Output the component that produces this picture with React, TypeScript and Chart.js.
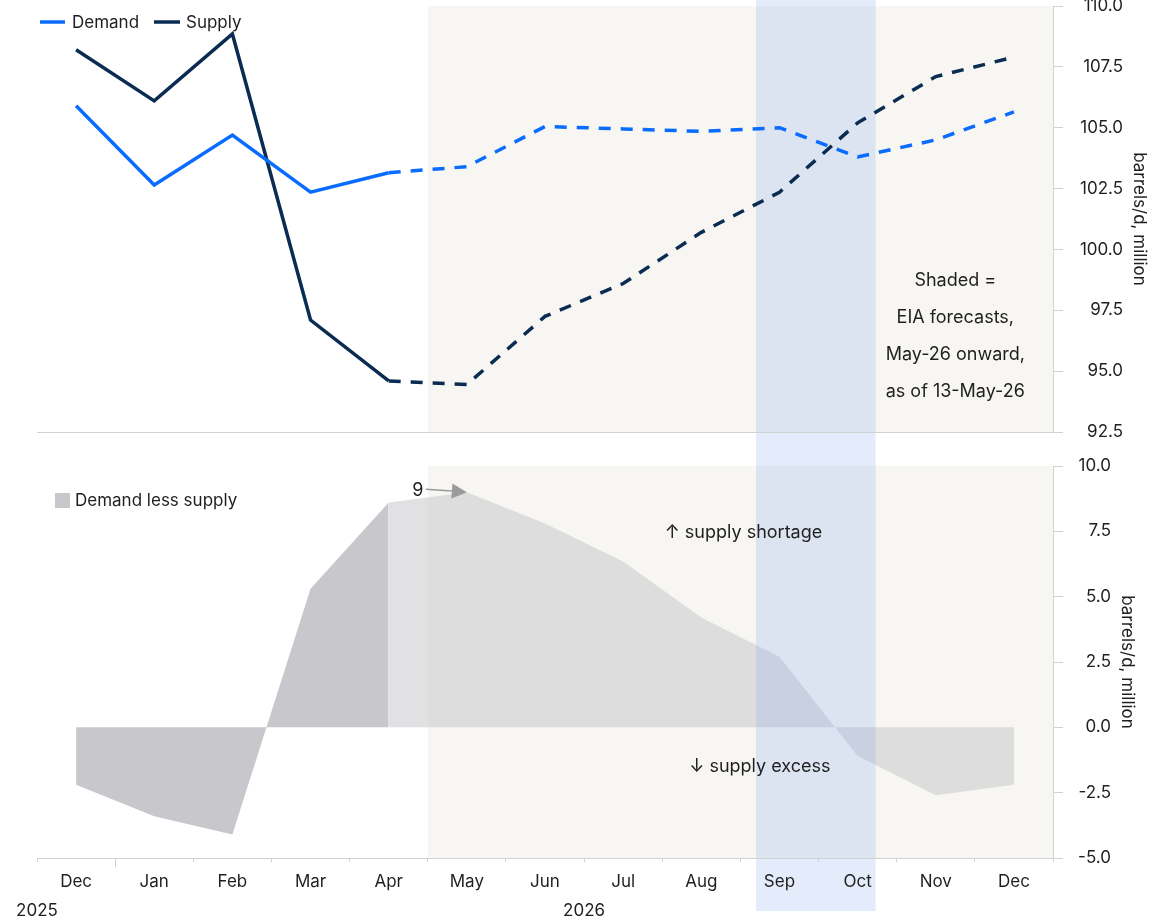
import React, { useEffect, useRef } from "react";
import { Chart, registerables } from "chart.js";

Chart.register(...registerables);

// ---------------- data ----------------
const months = ["Dec", "Jan", "Feb", "Mar", "Apr", "May", "Jun", "Jul", "Aug", "Sep", "Oct", "Nov", "Dec"];
const demand = [105.9, 102.65, 104.7, 102.35, 103.15, 103.4, 105.05, 104.95, 104.85, 105.0, 103.8, 104.5, 105.65];
const supply = [108.2, 106.1, 108.85, 97.1, 94.6, 94.45, 97.25, 98.6, 100.7, 102.35, 105.2, 107.1, 107.9];
const gapActual = [-2.2, -3.4, -4.1, 5.3, 8.6, null, null, null, null, null, null, null, null];
const gapForecast = [null, null, null, null, 8.6, 9.0, 7.8, 6.35, 4.2, 2.7, -1.1, -2.6, -2.2];
const topTicks = [92.5, 95, 97.5, 100, 102.5, 105, 107.5, 110];
const bottomTicks = [-5, -2.5, 0, 2.5, 5, 7.5, 10];
const years = ["2025", "2026"];
const shadedNote = ["Shaded =", "EIA forecasts,", "May-26 onward,", "as of 13-May-26"];
const ACTUAL_LAST = 4; // last actual month index (Apr)
const FORECAST_START = 4.5; // boundary Apr/May
const BAND = [8.7, 10.23]; // highlighted Sep-Oct window (category units)
const PEAK_INDEX = 5;
const PEAK_LABEL = "9";

// ---------------- styles ----------------
const FONT = "Inter, 'Noto Sans', 'DejaVu Sans', sans-serif";
const TEXT = "#1f1f1f";
const AXIS = "#d2d2d2";
const BEIGE = "#f7f6f2";
const BAND_COLOR = "rgba(120,160,240,0.2)";
const BLUE = "#0a6cff";
const NAVY = "#0b2c52";
const GREY_DARK = "#c8c7cc";
const GREY_LIGHT = "rgba(200,200,205,0.55)";

Chart.defaults.font.family = FONT;
Chart.defaults.color = TEXT;

const TOP_OFFSET = -15; // page y of top canvas
const TOP_H = 468;
const BOT_OFFSET = 444;
const BOT_H = 478;
const W = 1173;

function font(size: number) {
  return `${size}px ${FONT}`;
}

const topPlugin = {
  id: "topDecor",
  beforeDraw(chart: any) {
    const { ctx, chartArea, scales } = chart;
    const x = scales.x;
    ctx.save();
    const fx = x.getPixelForValue(FORECAST_START);
    ctx.fillStyle = BEIGE;
    ctx.fillRect(fx, chartArea.top, chartArea.right - fx, chartArea.bottom - chartArea.top);
    const b0 = x.getPixelForValue(BAND[0]);
    const b1 = x.getPixelForValue(BAND[1]);
    ctx.fillStyle = BAND_COLOR;
    ctx.fillRect(b0, -TOP_OFFSET, b1 - b0, BOT_OFFSET);
    ctx.restore();
  },
  afterDraw(chart: any) {
    const { ctx, scales } = chart;
    const x = scales.x;
    const y = scales.y;
    ctx.save();
    // legend
    const ly = 22 - TOP_OFFSET;
    ctx.lineWidth = 3.5;
    ctx.strokeStyle = BLUE;
    ctx.beginPath();
    ctx.moveTo(40, ly);
    ctx.lineTo(65, ly);
    ctx.stroke();
    ctx.strokeStyle = NAVY;
    ctx.beginPath();
    ctx.moveTo(154, ly);
    ctx.lineTo(180, ly);
    ctx.stroke();
    ctx.fillStyle = TEXT;
    ctx.font = font(17);
    ctx.textBaseline = "middle";
    ctx.textAlign = "left";
    ctx.fillText("Demand", 72, ly + 1);
    ctx.fillText("Supply", 186, ly + 1);
    // note
    ctx.font = font(18);
    ctx.textAlign = "center";
    const nx = x.getPixelForValue(11.25);
    const ny = y.getPixelForValue(98.74);
    shadedNote.forEach((t, i) => ctx.fillText(t, nx, ny + i * 37.3));
    ctx.restore();
  },
};

const bottomPlugin = {
  id: "bottomDecor",
  beforeDraw(chart: any) {
    const { ctx, chartArea, scales } = chart;
    const x = scales.x;
    ctx.save();
    const fx = x.getPixelForValue(FORECAST_START);
    ctx.fillStyle = BEIGE;
    ctx.fillRect(fx, chartArea.top, chartArea.right - fx, chartArea.bottom - chartArea.top);
    const b0 = x.getPixelForValue(BAND[0]);
    const b1 = x.getPixelForValue(BAND[1]);
    ctx.fillStyle = BAND_COLOR;
    ctx.fillRect(b0, 0, b1 - b0, chartArea.top);
    ctx.fillRect(b0, chartArea.bottom, b1 - b0, 911 - BOT_OFFSET - chartArea.bottom);
    ctx.restore();
  },
  afterDatasetsDraw(chart: any) {
    const { ctx, chartArea, scales } = chart;
    const x = scales.x;
    ctx.save();
    const b0 = x.getPixelForValue(BAND[0]);
    const b1 = x.getPixelForValue(BAND[1]);
    ctx.fillStyle = BAND_COLOR;
    ctx.fillRect(b0, chartArea.top, b1 - b0, chartArea.bottom - chartArea.top);
    ctx.restore();
  },
  afterDraw(chart: any) {
    const { ctx, chartArea, scales } = chart;
    const x = scales.x;
    const y = scales.y;
    ctx.save();
    // legend
    ctx.fillStyle = GREY_DARK;
    ctx.fillRect(55, 493 - BOT_OFFSET, 15, 15);
    ctx.fillStyle = TEXT;
    ctx.font = font(17);
    ctx.textBaseline = "middle";
    ctx.textAlign = "left";
    ctx.fillText("Demand less supply", 75, 501 - BOT_OFFSET);
    // annotations
    ctx.font = font(18);
    ctx.textAlign = "center";
    ctx.fillText("\u2191 supply shortage", x.getPixelForValue(8.54), y.getPixelForValue(7.47));
    ctx.fillText("\u2193 supply excess", x.getPixelForValue(8.75), y.getPixelForValue(-1.52));
    // peak label + arrow
    const tipX = x.getPixelForValue(PEAK_INDEX);
    const tipY = y.getPixelForValue(gapForecast[PEAK_INDEX] as number);
    ctx.fillText(PEAK_LABEL, tipX - 49, tipY - 2);
    const sx = tipX - 41;
    const sy = tipY - 3;
    const ang = Math.atan2(tipY - sy, tipX - sx);
    const hl = 15;
    const hw = 7.5;
    const bx = tipX - hl * Math.cos(ang);
    const by = tipY - hl * Math.sin(ang);
    ctx.strokeStyle = "#9a9a9a";
    ctx.fillStyle = "#9a9a9a";
    ctx.lineWidth = 1.5;
    ctx.beginPath();
    ctx.moveTo(sx, sy);
    ctx.lineTo(bx, by);
    ctx.stroke();
    ctx.beginPath();
    ctx.moveTo(tipX, tipY);
    ctx.lineTo(bx + hw * Math.sin(ang), by - hw * Math.cos(ang));
    ctx.lineTo(bx - hw * Math.sin(ang), by + hw * Math.cos(ang));
    ctx.closePath();
    ctx.fill();
    // longer year-boundary tick
    const yb = (x.getPixelForValue(0) + x.getPixelForValue(1)) / 2;
    ctx.strokeStyle = AXIS;
    ctx.lineWidth = 1;
    ctx.beginPath();
    ctx.moveTo(Math.round(yb) + 0.5, chartArea.bottom);
    ctx.lineTo(Math.round(yb) + 0.5, chartArea.bottom + 9);
    ctx.stroke();
    // year labels
    ctx.fillStyle = TEXT;
    ctx.font = font(17);
    ctx.textAlign = "center";
    const yy = 911 - BOT_OFFSET;
    ctx.fillText(years[0], chartArea.left, yy);
    ctx.fillText(years[1], (x.getPixelForValue(1) + x.getPixelForValue(12)) / 2, yy);
    ctx.restore();
  },
};

// width = distance from plot edge to right edge of tick labels (labels are right-aligned there)
function yAxis(min: number, max: number, ticks: number[], width: number) {
  return {
    type: "linear" as const,
    position: "right" as const,
    min,
    max,
    afterBuildTicks: (scale: any) => {
      scale.ticks = ticks.map((v) => ({ value: v }));
    },
    afterFit: (scale: any) => {
      scale.width = width;
    },
    ticks: {
      padding: 10,
      crossAlign: "far" as const,
      font: { size: 17 },
      color: TEXT,
      callback: (v: any) => Number(v).toFixed(1),
    },
    grid: { drawOnChartArea: false, drawTicks: true, tickLength: 10, color: AXIS },
    border: { display: true, color: AXIS },
    title: {
      display: true,
      text: "barrels/d, million",
      font: { size: 17 },
      color: TEXT,
      padding: { top: -26.2, bottom: 0 },
    },
  };
}

export default function App() {
  const topRef = useRef<HTMLCanvasElement>(null);
  const botRef = useRef<HTMLCanvasElement>(null);

  useEffect(() => {
    const dash = (ctx: any) => (ctx.p0DataIndex >= ACTUAL_LAST ? [12, 10] : undefined);
    const top = new Chart(topRef.current!, {
      type: "line",
      data: {
        labels: months,
        datasets: [
          {
            label: "Demand",
            data: demand,
            borderColor: BLUE,
            borderWidth: 3.5,
            pointRadius: 0,
            segment: { borderDash: dash },
          },
          {
            label: "Supply",
            data: supply,
            borderColor: NAVY,
            borderWidth: 3.5,
            pointRadius: 0,
            segment: { borderDash: dash },
          },
        ],
      },
      options: {
        animation: false,
        responsive: false,
        devicePixelRatio: 1,
        layout: { padding: { left: 37, right: 50, top: 21, bottom: 21 } },
        plugins: { legend: { display: false }, tooltip: { enabled: false } },
        scales: {
          x: {
            offset: true,
            afterFit: (s: any) => {
              s.height = 0;
            },
            ticks: { display: false },
            grid: { display: false, offset: true },
            border: { display: true, color: AXIS },
          },
          y: yAxis(92.5, 110, topTicks, 70),
        },
      },
      plugins: [topPlugin],
    } as any);

    const bottom = new Chart(botRef.current!, {
      type: "line",
      data: {
        labels: months,
        datasets: [
          {
            label: "Demand less supply",
            data: gapActual,
            borderWidth: 0,
            pointRadius: 0,
            fill: "origin",
            backgroundColor: GREY_DARK,
          },
          {
            label: "Demand less supply (forecast)",
            data: gapForecast,
            borderWidth: 0,
            pointRadius: 0,
            fill: "origin",
            backgroundColor: GREY_LIGHT,
          },
        ],
      },
      options: {
        animation: false,
        responsive: false,
        devicePixelRatio: 1,
        layout: { padding: { left: 37, right: 62, top: 22, bottom: 0 } },
        plugins: { legend: { display: false }, tooltip: { enabled: false } },
        scales: {
          x: {
            offset: true,
            afterFit: (s: any) => {
              s.height = 64;
            },
            ticks: { padding: 10, font: { size: 17 }, color: TEXT, maxRotation: 0, autoSkip: false },
            grid: { drawOnChartArea: false, drawTicks: true, tickLength: 4, offset: true, color: AXIS },
            border: { display: true, color: AXIS },
          },
          y: yAxis(-5, 10, bottomTicks, 58),
        },
      },
      plugins: [bottomPlugin],
    } as any);

    return () => {
      top.destroy();
      bottom.destroy();
    };
  }, []);

  return (
    <div style={{ position: "absolute", left: 0, top: 0, width: W, height: 922, overflow: "hidden", background: "#fff" }}>
      <canvas
        ref={topRef}
        width={W}
        height={TOP_H}
        style={{ position: "absolute", left: 0, top: TOP_OFFSET, width: W, height: TOP_H }}
      />
      <canvas
        ref={botRef}
        width={W}
        height={BOT_H}
        style={{ position: "absolute", left: 0, top: BOT_OFFSET, width: W, height: BOT_H }}
      />
    </div>
  );
}
